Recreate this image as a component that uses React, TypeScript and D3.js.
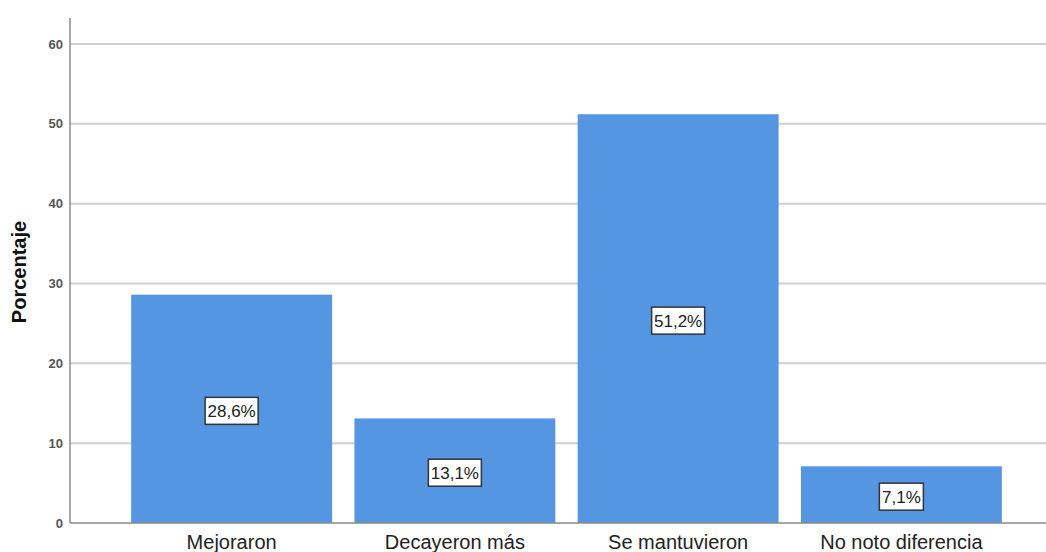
import React from "react";
import * as d3 from "d3";

const categories = ["Mejoraron", "Decayeron más", "Se mantuvieron", "No noto diferencia"];
const values = [28.6, 13.1, 51.2, 7.1];
const valueLabels = ["28,6%", "13,1%", "51,2%", "7,1%"];
const yTicks = [0, 10, 20, 30, 40, 50, 60];
const yTitle = "Porcentaje";

const W = 1046;
const H = 552;
const axisX = 70;
const baseY = 523;
const topY = 44;

export default function App() {
  const x = d3
    .scaleBand<string>()
    .domain(categories)
    .range([120, 1013])
    .paddingInner(0.1)
    .paddingOuter(0.05);
  const y = d3.scaleLinear().domain([0, 60]).range([baseY, topY]);
  const font = "'Liberation Sans', Arial, sans-serif";

  return (
    <svg
      width={W}
      height={H}
      style={{ position: "absolute", left: 0, top: 0, background: "#fff" }}
      fontFamily={font}
    >
      {yTicks.slice(1).map((t) => (
        <line key={"g" + t} x1={axisX} x2={W} y1={y(t)} y2={y(t)} stroke="#d0d0d0" strokeWidth={2} />
      ))}
      {yTicks.map((t) => (
        <text
          key={"t" + t}
          x={axisX - 7}
          y={y(t)}
          dy="0.35em"
          textAnchor="end"
          fontSize={13}
          fontWeight="bold"
          fill="#555"
        >
          {t}
        </text>
      ))}
      <text
        transform={`translate(26, 272) rotate(-90)`}
        textAnchor="middle"
        fontSize={20}
        fontWeight="bold"
        fill="#111"
      >
        {yTitle}
      </text>
      {categories.map((c, i) => (
        <rect
          key={"b" + c}
          x={x(c)!}
          y={y(values[i])}
          width={x.bandwidth()}
          height={baseY - y(values[i])}
          fill="#5596e3"
        />
      ))}
      <line x1={axisX} x2={axisX} y1={18} y2={baseY} stroke="#8a8a8a" strokeWidth={1.5} />
      <line x1={axisX} x2={W} y1={baseY} y2={baseY} stroke="#8a8a8a" strokeWidth={1.5} />
      {categories.map((c, i) => {
        const cx = x(c)! + x.bandwidth() / 2;
        const cy = (y(values[i]) + baseY) / 2 + 2;
        const label = valueLabels[i];
        const w = label.length * 9 + 8;
        return (
          <g key={"l" + c}>
            <rect
              x={cx - w / 2}
              y={cy - 13.5}
              width={w}
              height={27}
              fill="#fff"
              stroke="#333"
              strokeWidth={1.5}
            />
            <text x={cx} y={cy} dy="0.36em" textAnchor="middle" fontSize={17} fill="#222">
              {label}
            </text>
          </g>
        );
      })}
      {categories.map((c) => (
        <text
          key={"c" + c}
          x={x(c)! + x.bandwidth() / 2}
          y={549}
          textAnchor="middle"
          fontSize={20}
          fill="#222"
        >
          {c}
        </text>
      ))}
    </svg>
  );
}
